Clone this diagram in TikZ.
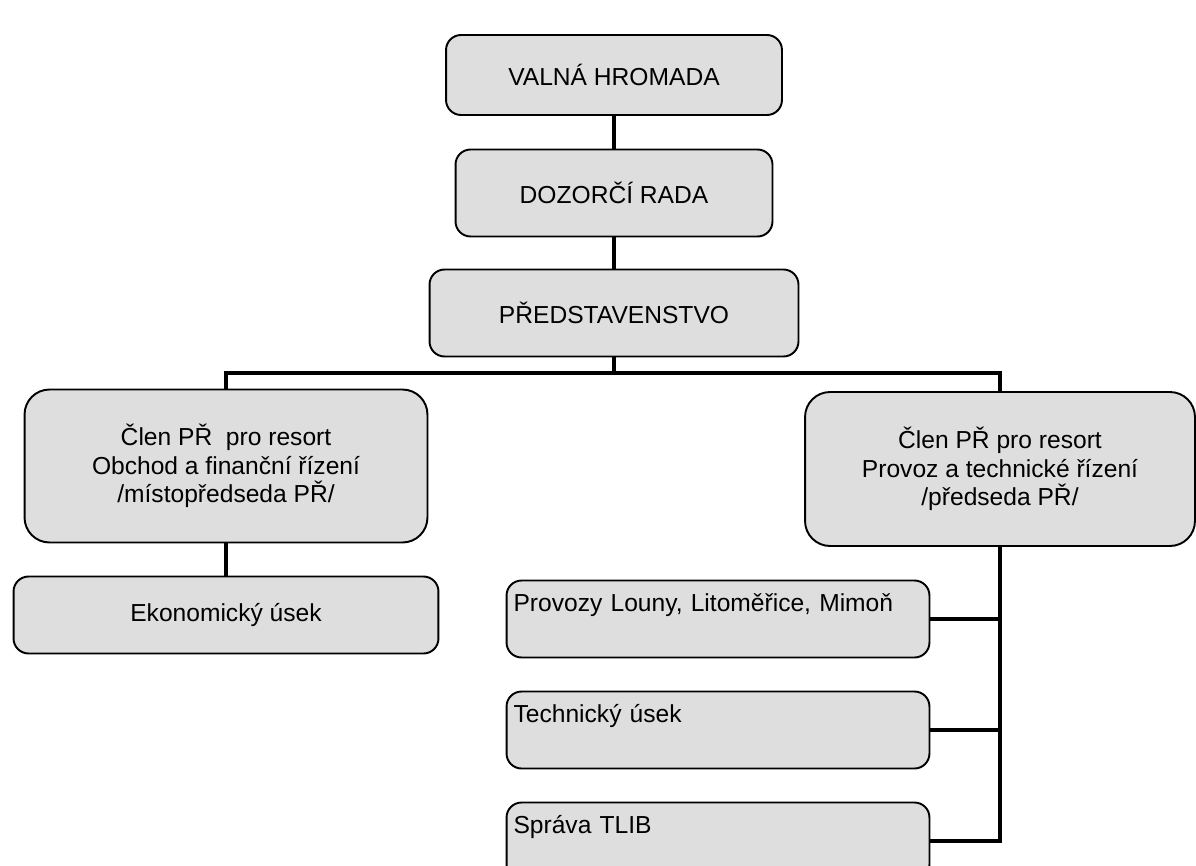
\documentclass[tikz,border=0pt]{standalone}
\usepackage{fontspec}
\setmainfont{Liberation Sans}
\usetikzlibrary{positioning}

\begin{document}
\begin{tikzpicture}[x=0.02cm, y=-0.02cm,
  box/.style={draw, line width=1.1pt, fill=black!13, rounded corners=0.3cm,
    inner sep=0pt, align=center, font=\fontsize{14}{16.2}\selectfont},
  bigbox/.style={box, rounded corners=0.5cm},
  leftbox/.style={box, align=left, inner xsep=0.14cm, inner ysep=0pt,
    text width=8.18cm, text height=0.62cm, text depth=0.92cm},
  conn/.style={line width=2.8pt}]

% Page frame
\useasboundingbox (0,0) rectangle (1196,865);
\clip (0,0) rectangle (1196,865);

% Top of the company
\node[box, minimum width=6.72cm, minimum height=1.6cm] (valna) at (614,75) {VALNÁ HROMADA};
\node[box, minimum width=6.34cm, minimum height=1.74cm] (dozor) at (614,193) {DOZORČÍ RADA};
\node[box, minimum width=7.38cm, minimum height=1.74cm] (pred) at (614,313) {PŘEDSTAVENSTVO};

% Board members
\node[bigbox, minimum width=8.06cm, minimum height=3.06cm] (clenL) at (226,466)
  {Člen PŘ~ pro resort\\Obchod a finanční řízení\\/místopředseda PŘ/};
\node[bigbox, minimum width=7.8cm, minimum height=3.08cm] (clenR) at (1000,469)
  {Člen PŘ pro resort\\Provoz a technické řízení\\/předseda PŘ/};

% Departments
\node[box, minimum width=8.5cm, minimum height=1.54cm] (ekon) at (226,615) {Ekonomický úsek};
\node[leftbox] (provozy) at (718,619) {Provozy Louny, Litoměřice, Mimoň};
\node[leftbox] (tech) at (718,730) {Technický úsek};
\node[leftbox] (sprava) at (718,841) {Správa TLIB};

% Lines
\coordinate (bus) at (614,373);
\draw[conn] (valna) -- (dozor);
\draw[conn] (dozor) -- (pred);
\draw[conn] (pred.south) -- (bus);
\draw[conn] (clenL.north) |- (bus) -| (clenR.north);
\draw[conn] (clenL) -- (ekon);
\draw[conn] (clenR.south) |- (sprava.east);
\draw[conn] (provozy.east) -- (provozy.east -| clenR.south);
\draw[conn] (tech.east) -- (tech.east -| clenR.south);

\end{tikzpicture}
\end{document}
